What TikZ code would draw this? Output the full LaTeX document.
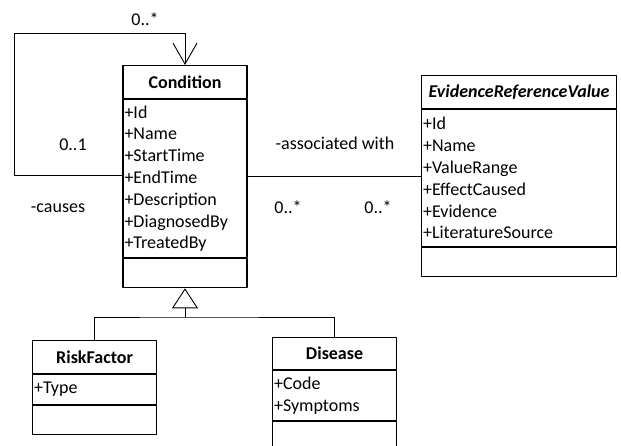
\documentclass[tikz,border=0pt]{standalone}
\usepackage{fontspec}
\setmainfont{Carlito}
\usetikzlibrary{positioning,arrows.meta}
\tikzset{
  classname/.style={draw,line width=1.1pt,minimum width=124pt,minimum height=33pt,inner sep=0pt,font=\fontsize{18}{21.8}\selectfont\bfseries},
  classattr/.style={draw,line width=1.1pt,text width=121pt,inner xsep=1.5pt,inner ysep=0pt,align=left,font=\fontsize{18}{21.8}\selectfont},
  classops/.style={draw,line width=1.1pt,minimum width=124pt,inner sep=0pt},
  lbl/.style={font=\fontsize{18}{21.8}\selectfont},
  assoc/.style={line width=0.9pt}
}
\begin{document}
\begin{tikzpicture}[x=1pt,y=-1pt,line join=round]
\useasboundingbox (0,0) rectangle (621,446);
\clip (0,0) rectangle (621,446);
% Condition
\node[classname,anchor=north] (cond) at (185,65) {Condition};
\node[classattr,minimum height=158pt,below=0pt of cond] (cond-attr) {+Id\\+Name\\+StartTime\\+EndTime\\+Description\\+DiagnosedBy\\+TreatedBy};
\node[classops,minimum height=29pt,below=0pt of cond-attr] (cond-ops) {};
% EvidenceReferenceValue
\node[classname,anchor=north west,minimum width=195pt,font=\fontsize{18}{21.8}\selectfont\bfseries\itshape] (erv) at (421,75) {EvidenceReferenceValue};
\node[classattr,text width=192pt,minimum height=137pt,below=0pt of erv] (erv-attr) {+Id\\+Name\\+ValueRange\\+EffectCaused\\+Evidence\\+LiteratureSource};
\node[classops,minimum width=195pt,minimum height=29pt,below=0pt of erv-attr] (erv-ops) {};
% RiskFactor
\node[classname,anchor=north west] (rf) at (32,340) {RiskFactor};
\node[classattr,minimum height=30pt,below=0pt of rf] (rf-attr) {+Type};
\node[classops,minimum height=29pt,below=0pt of rf-attr] (rf-ops) {};
% Disease
\node[classname,anchor=north west,minimum height=32pt] (dis) at (272,337) {Disease};
\node[classattr,minimum height=50pt,below=0pt of dis] (dis-attr) {+Code\\+Symptoms};
\node[classops,minimum height=40pt,below=0pt of dis-attr] (dis-ops) {};

% causes (self association)
\coordinate (loop) at (14,33);
\draw[assoc,-{Straight Barb[length=21pt,width=24pt]}] ([yshift=3pt]cond-attr.west) -| (loop) -| (cond.north);
% associated with
\draw[assoc] ([yshift=2pt]cond-attr.east) -- ([yshift=2pt]cond-attr.east -| erv-attr.west);
% generalization
\coordinate (gen) at (185,317);
\draw[assoc] (rf.north) |- (gen) -| (dis.north);
\draw[assoc,-{Triangle[open,length=20pt,width=26pt]}] (gen) -- (cond-ops.south);

\node[lbl] (m-loop-top) at (145,19) {0..*};
\node[lbl] (m-loop-bot) at (73,145) {0..1};
\node[lbl] (r-causes) at (58,208) {-causes};
\node[lbl] (r-assoc) at (335,143) {-associated with};
\node[lbl] (m-cond) at (288,207) {0..*};
\node[lbl] (m-erv) at (378,207) {0..*};
\end{tikzpicture}
\end{document}
